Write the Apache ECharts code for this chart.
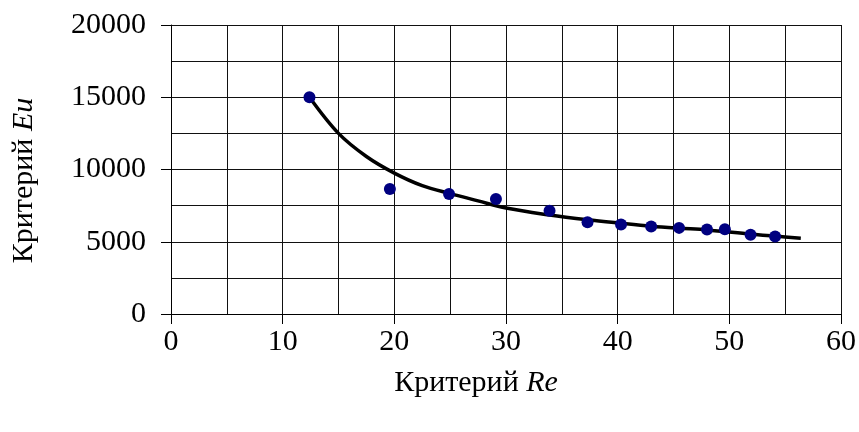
<!DOCTYPE html>
<html>
<head>
<meta charset="utf-8">
<script src="https://cdn.jsdelivr.net/npm/echarts@6/dist/echarts.min.js"></script>
<style>html,body{margin:0;padding:0;background:#fff}#c{width:859px;height:432px}</style>
</head>
<body>
<div id="c"></div>
<script>
// Measured points (Re, Eu)
var pointRe = [12.4, 19.6, 24.9, 29.1, 33.9, 37.3, 40.3, 43.0, 45.5, 48.0, 49.6, 51.9, 54.1];
var pointEu = [15000, 8650, 8310, 7960, 7150, 6350, 6190, 6050, 5960, 5840, 5870, 5480, 5360];
// Trend curve
var curveRe = [12.4, 15.0, 17.5, 20.0, 22.5, 25.0, 27.5, 30.0, 33.9, 37.3, 40.3, 43.0, 45.5, 48.0, 51.9, 54.1, 56.4];
var curveEu = [15000, 12500, 10900, 9750, 8880, 8330, 7830, 7330, 6850, 6520, 6280, 6080, 5940, 5820, 5530, 5390, 5250];
var xTicks = [0, 10, 20, 30, 40, 50, 60];
var yTicks = [0, 5000, 10000, 15000, 20000];

var F = 'Liberation Serif, Times New Roman, serif';
var FS = 30;
var chart = echarts.init(document.getElementById('c'), null, {renderer: 'canvas'});
function zip(a, b) { return a.map(function (v, i) { return [v, b[i]]; }); }
function fmt(v) { return String(v); }
chart.setOption({
  animation: false,
  backgroundColor: '#fff',
  grid: {left: 171, top: 25, right: 18, bottom: 118, containLabel: false},
  xAxis: {
    type: 'value', min: xTicks[0], max: xTicks[xTicks.length - 1], interval: 10,
    name: '{a|Критерий }{b|Re}', nameLocation: 'middle', nameGap: 54,
    nameTextStyle: {padding: [0, 60, 0, 0], rich: {
      a: {fontFamily: F, fontSize: FS, color: '#000'},
      b: {fontFamily: F, fontSize: FS, color: '#000', fontStyle: 'italic'}
    }},
    axisLine: {show: true, lineStyle: {color: '#000', width: 1}},
    axisTick: {show: true, inside: false, length: 10, lineStyle: {color: '#000'}},
    axisLabel: {fontFamily: F, fontSize: FS, color: '#000', margin: 13, formatter: fmt},
    splitLine: {show: true, lineStyle: {color: '#111', width: 1}},
    minorTick: {show: false, splitNumber: 2},
    minorSplitLine: {show: true, lineStyle: {color: '#111', width: 1}}
  },
  yAxis: {
    type: 'value', min: yTicks[0], max: yTicks[yTicks.length - 1], interval: 5000,
    name: '{a|Критерий }{b|Eu}', nameLocation: 'middle', nameGap: 132, nameRotate: 90,
    nameTextStyle: {padding: [0, 22, 0, 0], rich: {
      a: {fontFamily: F, fontSize: FS, color: '#000'},
      b: {fontFamily: F, fontSize: FS, color: '#000', fontStyle: 'italic'}
    }},
    axisLine: {show: true, lineStyle: {color: '#000', width: 1}},
    axisTick: {show: true, inside: false, length: 10, lineStyle: {color: '#000'}},
    axisLabel: {fontFamily: F, fontSize: FS, color: '#000', margin: 25, formatter: fmt},
    splitLine: {show: true, lineStyle: {color: '#111', width: 1}},
    minorTick: {show: false, splitNumber: 2},
    minorSplitLine: {show: true, lineStyle: {color: '#111', width: 1}}
  },
  series: [
    {
      type: 'line', data: zip(curveRe, curveEu), smooth: 0.35, showSymbol: false,
      lineStyle: {color: '#000', width: 3.5}, z: 3
    },
    {
      type: 'scatter', data: zip(pointRe, pointEu), symbol: 'circle', symbolSize: 12,
      itemStyle: {color: '#000080', opacity: 1}, z: 4
    }
  ]
});
</script>
</body>
</html>
